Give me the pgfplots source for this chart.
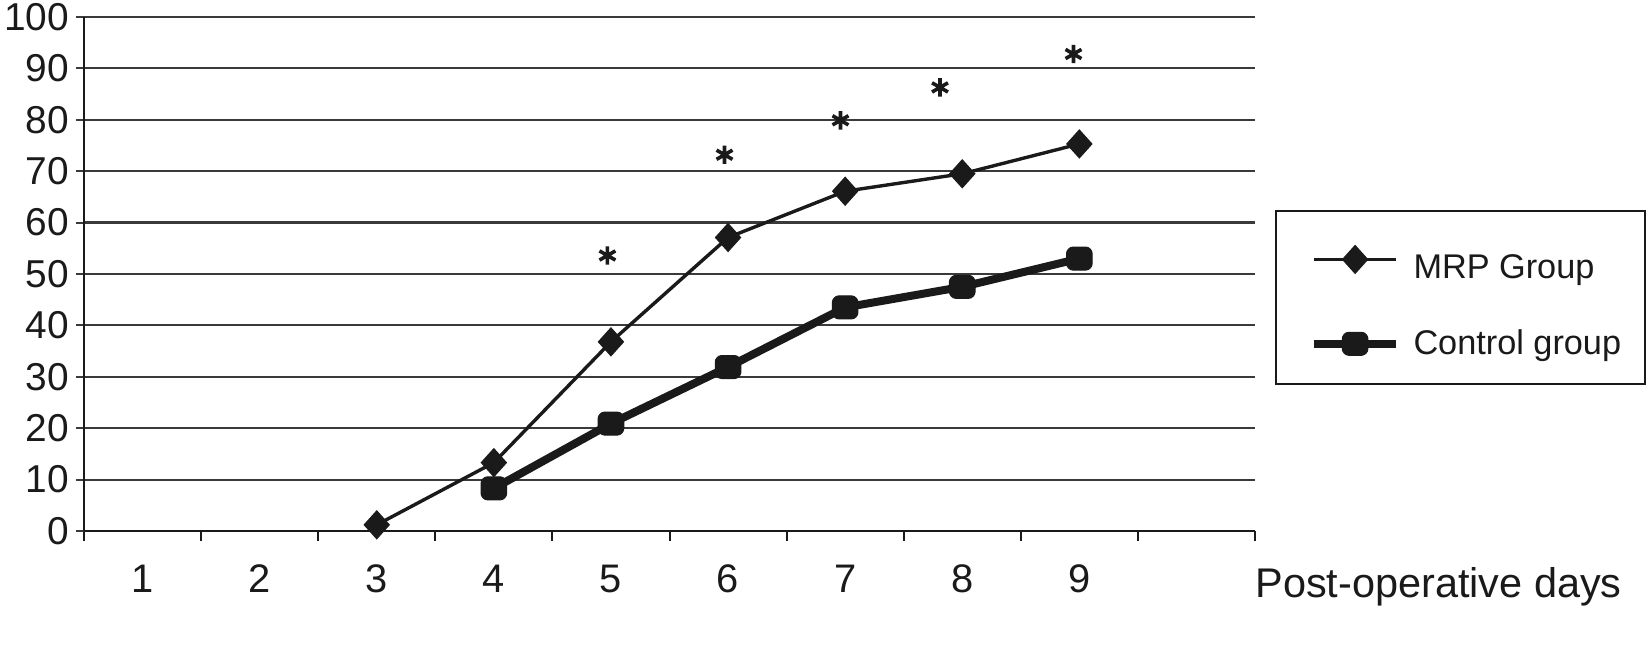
\documentclass[border=0pt]{standalone}
\usepackage{fontspec}
\setmainfont{Liberation Sans}
\usepackage{pgfplots}
\pgfplotsset{compat=1.18}
\definecolor{ink}{HTML}{1A1A1A}
\definecolor{gridc}{HTML}{3A3A3A}
\newcommand*{\rsqpt}[2]{\pgfqpoint{#1\pgfplotmarksize}{#2\pgfplotmarksize}}
\pgfdeclareplotmark{rsquare*}{%
  \pgfpathmoveto{\rsqpt{-.5}{.9}}%
  \pgfpathlineto{\rsqpt{.5}{.9}}%
  \pgfpathcurveto{\rsqpt{.776}{.9}}{\rsqpt{1}{.624}}{\rsqpt{1}{.4}}%
  \pgfpathlineto{\rsqpt{1}{-.4}}%
  \pgfpathcurveto{\rsqpt{1}{-.624}}{\rsqpt{.776}{-.9}}{\rsqpt{.5}{-.9}}%
  \pgfpathlineto{\rsqpt{-.5}{-.9}}%
  \pgfpathcurveto{\rsqpt{-.776}{-.9}}{\rsqpt{-1}{-.624}}{\rsqpt{-1}{-.4}}%
  \pgfpathlineto{\rsqpt{-1}{.4}}%
  \pgfpathcurveto{\rsqpt{-1}{.624}}{\rsqpt{-.776}{.9}}{\rsqpt{-.5}{.9}}%
  \pgfpathclose
  \pgfusepathqfillstroke}
\begin{document}
\begin{tikzpicture}
\path[use as bounding box] (-42bp,-59.5bp) rectangle (781bp,265.5bp);
\begin{axis}[
  at={(0bp,0bp)}, anchor=south west,
  scale only axis, width=585.5bp, height=257bp,
  xmin=0.5, xmax=10.5, ymin=0, ymax=100,
  axis lines=left,
  axis line style={-, line width=1.2bp, color=ink},
  /pgf/number format/assume math mode=true,
  tick label style={font=\fontsize{19.5}{20}\selectfont, text=ink},
  xtick={1,...,9},
  major x tick style={draw=none},
  minor xtick={0.5,1.5,...,10.5},
  minor x tick style={line width=1bp, color=ink},
  tick align=outside,
  minor tick length=5bp,
  major tick length=4bp,
  ytick={0,10,...,100},
  y tick style={line width=1bp, color=gridc},
  ymajorgrids,
  major grid style={line width=1.1bp, color=gridc},
  xticklabel style={anchor=base, yshift=-26.5bp, font=\fontsize{20}{20}\selectfont},
  yticklabel style={anchor=east},
  xlabel={Post-operative days},
  xlabel style={at={(rel axis cs:1,0)}, anchor=base west, yshift=-33bp, inner sep=0pt,
    font=\fontsize{20.8}{21}\selectfont, text=ink},
  legend style={at={(1.017,0.625)}, anchor=north west, draw=ink, line width=1.2bp,
    font=\fontsize{17.2}{20}\selectfont, inner xsep=10bp, inner ysep=11bp,
    row sep=20bp, text=ink},
  legend cell align=left,
  legend image code/.code={\path (-7bp,0bp) (45.7bp,0bp);\draw[mark repeat=2,mark phase=2,#1] plot coordinates {(0bp,0bp) (20.5bp,0bp) (41bp,0bp)};},
]
\addplot[color=ink, line width=1.7bp, mark=diamond*, mark size=7bp, mark options={line width=0.5bp, xscale=1.2}]
  coordinates {(3,1.2) (4,13.3) (5,36.8) (6,57.1) (7,66.1) (8,69.5) (9,75.3)};
\addlegendentry{\rule{0pt}{21bp}MRP Group}
\addplot[color=ink, line width=4bp, mark=rsquare*, mark size=6.4bp, mark options={line width=0.5bp}]
  coordinates {(4,8.3) (5,20.9) (6,31.9) (7,43.5) (8,47.5) (9,53.0)};
\addlegendentry{Control group}
\addplot[forget plot, only marks, color=ink, mark=asterisk, mark size=4.6bp, mark options={line width=1.8bp}]
  coordinates {(4.97,53.6) (5.97,73.2) (6.96,79.9) (7.81,86.3) (8.95,92.8)};
\end{axis}
\end{tikzpicture}
\end{document}
